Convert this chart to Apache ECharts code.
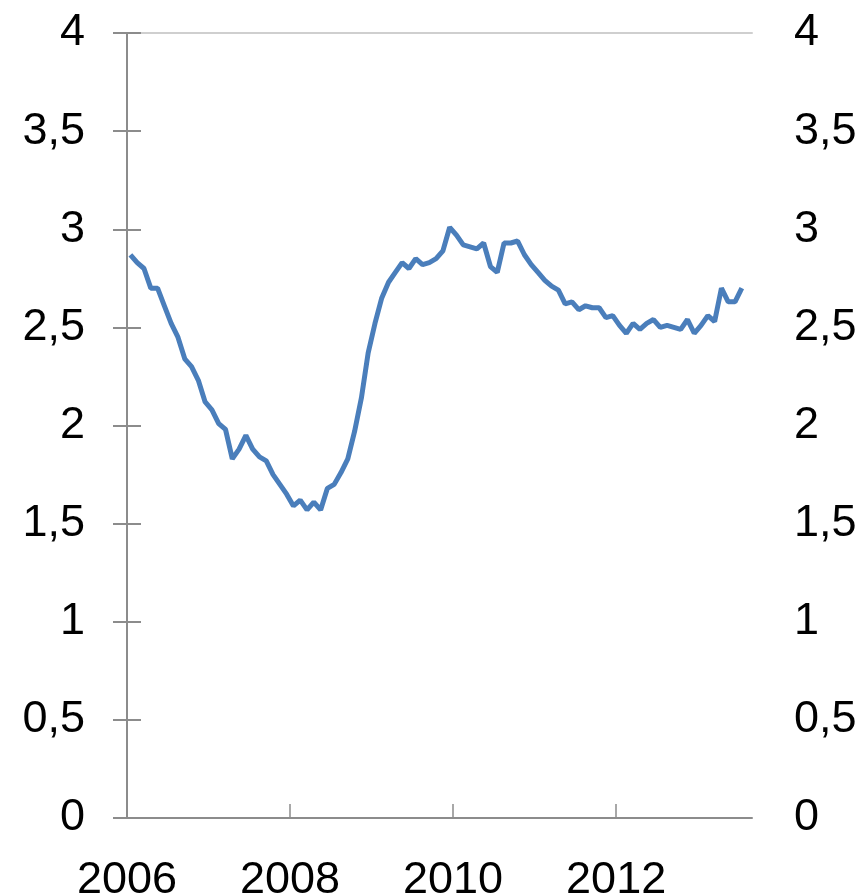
<!DOCTYPE html>
<html>
<head>
<meta charset="utf-8">
<script src="https://cdn.jsdelivr.net/npm/echarts@6/dist/echarts.min.js"></script>
<style>
  html, body { margin: 0; padding: 0; background: #fff; }
  #chart { width: 862px; height: 896px; }
</style>
</head>
<body>
<div id="chart"></div>
<script>
// monthly values, Jan 2006 .. Jul 2013
const startYear = 2006;
const values = [
  2.87, 2.83, 2.80, 2.70, 2.70, 2.61, 2.52, 2.45, 2.34, 2.30, 2.23, 2.12,
  2.08, 2.01, 1.98, 1.83, 1.88, 1.95, 1.88, 1.84, 1.82, 1.75, 1.70, 1.65,
  1.59, 1.62, 1.57, 1.61, 1.57, 1.68, 1.70, 1.76, 1.83, 1.97, 2.14, 2.37,
  2.52, 2.65, 2.73, 2.78, 2.83, 2.80, 2.85, 2.82, 2.83, 2.85, 2.89, 3.01,
  2.97, 2.92, 2.91, 2.90, 2.93, 2.81, 2.78, 2.93, 2.93, 2.94, 2.87, 2.82,
  2.78, 2.74, 2.71, 2.69, 2.62, 2.63, 2.59, 2.61, 2.60, 2.60, 2.55, 2.56,
  2.51, 2.47, 2.52, 2.49, 2.52, 2.54, 2.50, 2.51, 2.50, 2.49, 2.54, 2.47,
  2.51, 2.56, 2.53, 2.70, 2.63, 2.63, 2.70
];
const yTicks = [0, 0.5, 1, 1.5, 2, 2.5, 3, 3.5, 4];
const xLabelYears = [2006, 2008, 2010, 2012];

const axisGray = "#8c8c8c";
const fontBase = { fontFamily: "Liberation Sans, Arial, sans-serif", fontSize: 45, color: "#000" };

// month index (centre of month) on x
const seriesData = values.map((v, i) => [i + 0.5, v]);

const chart = echarts.init(document.getElementById("chart"));

function yAxisCfg(pos) {
  return {
    type: "value",
    position: pos,
    min: yTicks[0],
    max: yTicks[yTicks.length - 1],
    interval: 0.5,
    axisLine: { show: true, lineStyle: { color: axisGray, width: 2 } },
    axisTick: { show: true, inside: true, length: 14, lineStyle: { color: axisGray, width: 2 } },
    splitLine: { show: false },
    axisLabel: Object.assign({}, fontBase, {
      margin: 42,
      formatter: v => String(v).replace(".", ",")
    })
  };
}

chart.setOption({
  animation: false,
  grid: { left: 127, right: 110, top: 33, bottom: 78, containLabel: false, outerBoundsMode: "none" },
  xAxis: [
    {
      type: "value",
      position: "bottom",
      min: 0,
      max: 92,
      interval: 24,
      axisLine: { show: true, onZero: false, lineStyle: { color: axisGray, width: 2 } },
      axisTick: { show: true, inside: true, length: 14, lineStyle: { color: axisGray, width: 1.5 } },
      splitLine: { show: false },
      axisLabel: Object.assign({}, fontBase, {
        margin: 40,
        showMaxLabel: false,
        formatter: v => {
          const y = startYear + v / 12;
          return xLabelYears.indexOf(y) >= 0 ? String(y) : "";
        }
      })
    },
    {
      type: "value",
      position: "top",
      min: 0,
      max: 92,
      axisLine: { show: true, onZero: false, lineStyle: { color: "#cfcfcf", width: 2 } },
      axisTick: { show: false },
      axisLabel: { show: false },
      splitLine: { show: false }
    }
  ],
  yAxis: [yAxisCfg("left"), yAxisCfg("right")],
  series: [
    {
      type: "line",
      xAxisIndex: 0,
      yAxisIndex: 0,
      data: seriesData,
      showSymbol: false,
      lineStyle: { color: "#4a7ebb", width: 5 },
      itemStyle: { color: "#4a7ebb" }
    }
  ]
});
</script>
</body>
</html>
